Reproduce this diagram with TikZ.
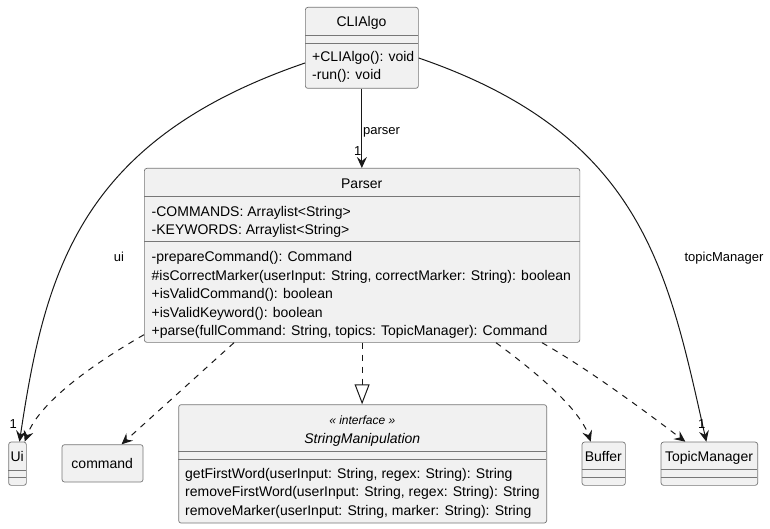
\documentclass[tikz,border=0pt]{standalone}
\usepackage{fontspec}
\setmainfont{Liberation Sans}
\usetikzlibrary{arrows.meta,calc}
\definecolor{boxfill}{HTML}{F1F1F1}
\definecolor{boxline}{HTML}{777777}
\definecolor{edgeline}{HTML}{181818}
\begin{document}
\begin{tikzpicture}[x=1pt,y=-1pt,
  cls/.style={draw=boxline, line width=0.7pt, fill=boxfill, rounded corners=2.5pt, inner sep=0pt, anchor=north west},
  sep/.style={draw=boxline, line width=0.7pt},
  mem/.style={anchor=base west, inner sep=0pt, font=\fontsize{14}{16}\selectfont},
  ttl/.style={anchor=base, inner sep=0pt, font=\fontsize{14}{16}\selectfont},
  lbl/.style={anchor=base, inner sep=0pt, font=\fontsize{13}{15}\selectfont},
  assoc/.style={draw=edgeline, line width=1pt, -{Stealth[length=11pt,width=10pt,inset=4pt]}},
  dep/.style={draw=edgeline, line width=1pt, dash pattern=on 6pt off 6pt, -{Stealth[length=11pt,width=10pt,inset=4pt]}},
  realz/.style={draw=edgeline, line width=1pt, dash pattern=on 6pt off 6pt, -{Triangle[length=20pt,width=15pt,fill=white]}}
]
\useasboundingbox[fill=white] (0,0) rectangle (770,529);

% CLIAlgo
\node[cls, minimum width=113pt, minimum height=81pt] (cli) at (305,7) {};
\draw[sep] (305,35) -- (418,35);
\draw[sep] (305,43) -- (418,43);
\node[ttl] (cliT) at (361.5,27) {CLIAlgo};
\node[mem] (cliM1) at (312,62) {+CLIAlgo(): void};
\node[mem] (cliM2) at (312,80) {-run(): void};

% Parser
\node[cls, minimum width=435.5pt, minimum height=174pt] (parser) at (144,168) {};
\draw[sep] (144,196.5) -- (579.5,196.5);
\draw[sep] (144,241) -- (579.5,241);
\node[ttl] (parT) at (361.75,188.5) {Parser};
\node[mem] (parF1) at (151.5,216.7) {-COMMANDS: Arraylist<String>};
\node[mem] (parF2) at (151.5,234.7) {-KEYWORDS: Arraylist<String>};
\node[mem] (parM1) at (151.5,261.7) {-prepareCommand(): Command};
\node[mem] (parM2) at (151.5,280.1) {\#isCorrectMarker(userInput: String, correctMarker: String): boolean};
\node[mem] (parM3) at (151.5,298.5) {+isValidCommand(): boolean};
\node[mem] (parM4) at (151.5,317.1) {+isValidKeyword(): boolean};
\node[mem] (parM5) at (151.5,335.6) {+parse(fullCommand: String, topics: TopicManager): Command};

% Ui
\node[cls, minimum width=17.7pt, minimum height=43.3pt] (ui) at (8.3,441.7) {};
\draw[sep] (8.3,470) -- (26,470);
\draw[sep] (8.3,477.7) -- (26,477.7);
\node[ttl] (uiT) at (17.2,461.7) {Ui};

% command
\node[cls, minimum width=81pt, minimum height=37.4pt] (cmd) at (61.7,444.3) {};
\node[ttl] (cmdT) at (102.2,468.3) {command};

% StringManipulation
\node[cls, minimum width=368pt, minimum height=118.4pt] (sm) at (178.3,404.3) {};
\draw[sep] (178.3,451) -- (546.3,451);
\draw[sep] (178.3,459.3) -- (546.3,459.3);
\node[ttl, font=\fontsize{12}{14}\selectfont\itshape] (smS) at (362.3,424.5) {« interface »};
\node[ttl, font=\fontsize{14}{16}\selectfont\itshape] (smT) at (362.3,443.3) {StringManipulation};
\node[mem] (smM1) at (185,478.3) {getFirstWord(userInput: String, regex: String): String};
\node[mem] (smM2) at (185,496.8) {removeFirstWord(userInput: String, regex: String): String};
\node[mem] (smM3) at (185,515.3) {removeMarker(userInput: String, marker: String): String};

% Buffer
\node[cls, minimum width=43.3pt, minimum height=43.3pt] (buf) at (581.7,441.7) {};
\draw[sep] (581.7,469.3) -- (625,469.3);
\draw[sep] (581.7,477.3) -- (625,477.3);
\node[ttl] (bufT) at (603.3,461.2) {Buffer};

% TopicManager
\node[cls, minimum width=96.6pt, minimum height=43.3pt] (tm) at (660.7,441.7) {};
\draw[sep] (660.7,469.3) -- (757.3,469.3);
\draw[sep] (660.7,477.3) -- (757.3,477.3);
\node[ttl] (tmT) at (709,461.2) {TopicManager};

% associations
\draw[assoc] (cli.south) -- (cli.south |- parser.north);
\node[lbl, anchor=base west] (lparser) at (363,134.5) {parser};
\node[lbl] (mparser) at (357.7,155.5) {1};

\draw[assoc] ($(cli.north west)+(0,56)$) .. controls (80,140) and (45,271) .. ($(ui.north)+(2,0)$);
\node[lbl] (lui) at (119,261.5) {ui};
\node[lbl] (mui) at (13.3,428) {1};

\draw[assoc] ($(cli.north east)+(0,51)$) .. controls (643,135) and (668,271) .. ($(tm.north)+(-3,0)$);
\node[lbl] (ltm) at (724,261.5) {topicManager};
\node[lbl] (mtm) at (701.7,428) {1};

% dependencies
\draw[dep] ($(parser.south west)+(0,-8)$) .. controls (100,360) and (40,400) .. ($(ui.north east)+(-2,0)$);
\draw[dep] ($(parser.south west)+(90,0)$) -- ($(cmd.north)+(19,0)$);
\draw[realz] (parser.south) -- (parser.south |- sm.north);
\draw[dep] ($(parser.south west)+(352,0)$) .. controls (540,375) and (580,410) .. ($(buf.north)+(-13,0)$);
\draw[dep] ($(parser.south west)+(398,0)$) .. controls (590,370) and (650,415) .. ($(tm.north)+(-24,0)$);
\end{tikzpicture}
\end{document}
